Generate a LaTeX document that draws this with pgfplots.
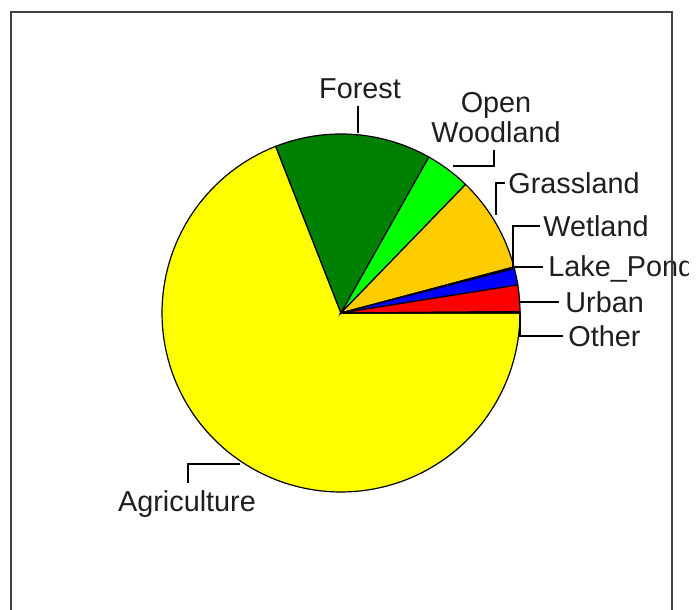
\documentclass[border=0pt]{standalone}
\usepackage{pgfplots}
\pgfplotsset{compat=1.18}
\usepackage{fontspec}
\setmainfont{Liberation Sans}
\definecolor{agri}{RGB}{255,255,0}
\definecolor{forest}{RGB}{0,128,0}
\definecolor{lime}{RGB}{0,255,0}
\definecolor{grass}{RGB}{255,204,0}
\definecolor{wet}{RGB}{0,128,128}
\definecolor{lake}{RGB}{0,0,255}
\definecolor{urban}{RGB}{255,0,0}
\definecolor{txt}{RGB}{30,30,30}
% slice angles (degrees, counter-clockwise from east), derived from shares:
% Other 0.1%, Urban 2.4%, Lake_Pond 1.5%, Wetland 0.15%, Grassland 8.6%,
% Open Woodland 4.1%, Forest 14.1%, Agriculture 69.05%
\begin{document}
\begin{tikzpicture}
\begin{axis}[
  hide axis, x=0.5bp, y=0.5bp,
  xmin=0, xmax=700, ymin=0, ymax=610,
  clip=false,
  every axis plot/.append style={draw=black, line width=0.6bp, samples=120, variable=\t},
]
% Agriculture
\addplot[fill=agri, domain=111.4:360] ({341+179*cos(t)},{297+179*sin(t)}) -- (axis cs:341,297) -- cycle;
% Forest
\addplot[fill=forest, domain=60.6:111.4] ({341+179*cos(t)},{297+179*sin(t)}) -- (axis cs:341,297) -- cycle;
% Open Woodland
\addplot[fill=lime, domain=45.9:60.6] ({341+179*cos(t)},{297+179*sin(t)}) -- (axis cs:341,297) -- cycle;
% Grassland
\addplot[fill=grass, domain=14.9:45.9] ({341+179*cos(t)},{297+179*sin(t)}) -- (axis cs:341,297) -- cycle;
% Wetland
\addplot[fill=wet, domain=14.4:14.9, samples=5] ({341+179*cos(t)},{297+179*sin(t)}) -- (axis cs:341,297) -- cycle;
% Lake_Pond
\addplot[fill=lake, domain=9.0:14.4, samples=20] ({341+179*cos(t)},{297+179*sin(t)}) -- (axis cs:341,297) -- cycle;
% Urban
\addplot[fill=urban, domain=0.4:9.0, samples=30] ({341+179*cos(t)},{297+179*sin(t)}) -- (axis cs:341,297) -- cycle;
% Other
\addplot[fill=black, domain=0:0.4, samples=3] ({341+179*cos(t)},{297+179*sin(t)}) -- (axis cs:341,297) -- cycle;

% leader lines
\draw[black, line width=1bp] (axis cs:358,504) -- (axis cs:358,477);
\draw[black, line width=1bp] (axis cs:494,460) -- (axis cs:494,444) -- (axis cs:453,444);
\draw[black, line width=1bp] (axis cs:505,427) -- (axis cs:496,427) -- (axis cs:496,395);
\draw[black, line width=1bp] (axis cs:540,384) -- (axis cs:513,384) -- (axis cs:513,343);
\draw[black, line width=1bp] (axis cs:543,343) -- (axis cs:515,343);
\draw[black, line width=1bp] (axis cs:559,308) -- (axis cs:520,308);
\draw[black, line width=1bp] (axis cs:563,274) -- (axis cs:520,274) -- (axis cs:520,297);
\draw[black, line width=1bp] (axis cs:240,146) -- (axis cs:188,146) -- (axis cs:188,127);

% labels
\tikzset{lbl/.style={inner sep=0pt, text=txt, font=\fontsize{14.4bp}{16bp}\selectfont}}
\node[lbl, anchor=base] at (axis cs:360,511) {Forest};
\node[lbl, anchor=base] at (axis cs:496,497) {Open};
\node[lbl, anchor=base] at (axis cs:496,467) {Woodland};
\node[lbl, anchor=base west] at (axis cs:508,416) {Grassland};
\node[lbl, anchor=base west] at (axis cs:543,373) {Wetland};
\begin{scope}
\clip (axis cs:0,0) rectangle (axis cs:688,610);
\node[lbl, anchor=base west] at (axis cs:548,333) {Lake\_Pond};
\end{scope}
\node[lbl, anchor=base west] at (axis cs:565,297) {Urban};
\node[lbl, anchor=base west] at (axis cs:568,263) {Other};
\node[lbl, anchor=base] at (axis cs:187,98) {Agriculture};

% frame
\draw[black!75, line width=1.2bp] (axis cs:11,-20) -- (axis cs:11,598) -- (axis cs:672,598) -- (axis cs:672,-20);
\end{axis}
\pgfresetboundingbox
\useasboundingbox (current axis.south west) rectangle (current axis.north east);
\end{tikzpicture}
\end{document}
